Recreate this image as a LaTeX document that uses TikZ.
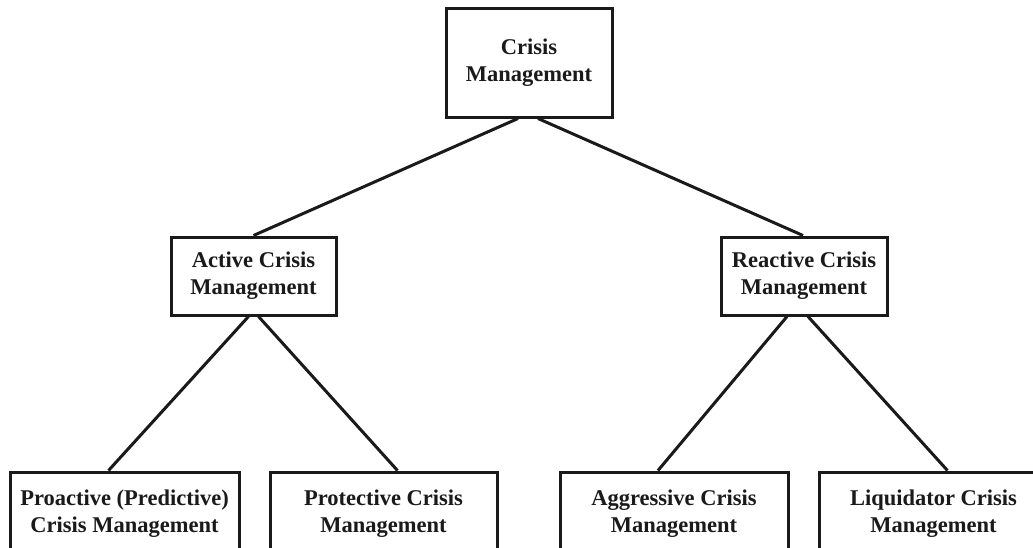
\documentclass[tikz,border=0pt]{standalone}
\usepackage{fontspec}
\setmainfont{Liberation Serif}
\usetikzlibrary{calc}
\definecolor{ink}{HTML}{1A1A1A}
\tikzset{
  box/.style={draw=ink, line width=3pt, rectangle, inner sep=0pt, align=center,
    text=ink, font=\fontsize{22.5}{27}\selectfont\bfseries},
  link/.style={draw=ink, line width=3pt},
}
\begin{document}
\begin{tikzpicture}[x=1pt,y=-1pt]
\useasboundingbox (0,0) rectangle (1033,547);
\clip (0,0) rectangle (1033,547);
\fill[white] (0,0) rectangle (1033,547);
\node[box, minimum width=166pt, minimum height=109pt] (top) at (529,62.5) {Crisis\\Management};
\node[box, minimum width=165pt, minimum height=78pt] (act) at (253.5,276) {Active Crisis\\Management};
\node[box, minimum width=166pt, minimum height=78pt] (rea) at (804,276) {Reactive Crisis\\Management};
\node[box, minimum width=229pt, minimum height=83pt] (pro) at (124.5,513.5) {Proactive (Predictive)\\Crisis Management};
\node[box, minimum width=227pt, minimum height=83pt] (prt) at (383.5,513.5) {Protective Crisis\\Management};
\node[box, minimum width=228pt, minimum height=83pt] (agg) at (674,513.5) {Aggressive Crisis\\Management};
\node[box, minimum width=229pt, minimum height=83pt] (liq) at (933.5,513.5) {Liquidator Crisis\\Management};
\draw[link] ([xshift=-11pt]top.south) -- (act.north);
\draw[link] ([xshift=9pt]top.south) -- ([xshift=-1pt]rea.north);
\draw[link] ([xshift=-5pt]act.south) -- ([xshift=-16pt]pro.north);
\draw[link] ([xshift=5pt]act.south) -- ([xshift=14pt]prt.north);
\draw[link] ([xshift=-17pt]rea.south) -- ([xshift=-16pt]agg.north);
\draw[link] ([xshift=4pt]rea.south) -- ([xshift=14pt]liq.north);
\end{tikzpicture}
\end{document}
